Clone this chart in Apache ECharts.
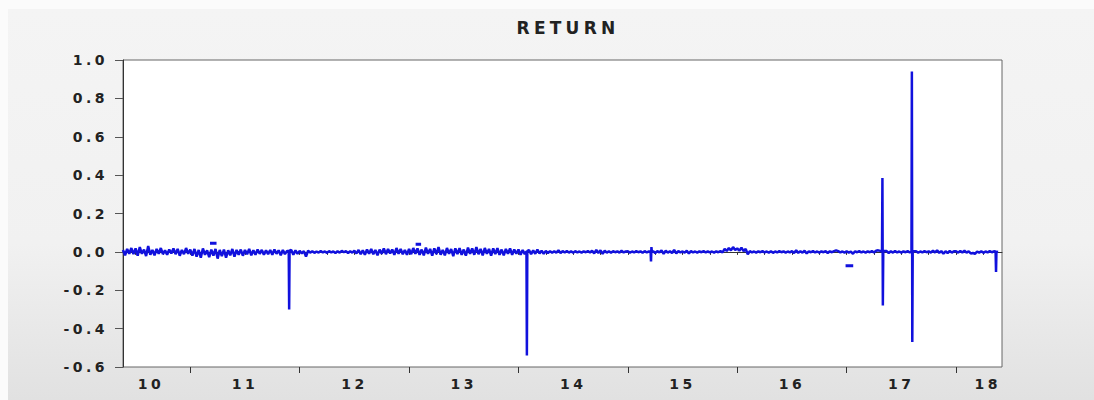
<!DOCTYPE html>
<html>
<head>
<meta charset="utf-8">
<title>RETURN</title>
<script src="https://cdn.jsdelivr.net/npm/echarts@6/dist/echarts.min.js"></script>
<style>
    html, body {
        margin: 0;
        padding: 0;
        background: #fbfbfb;
    }
    #bg {
        position: absolute;
        left: 8px;
        top: 9px;
        right: 0;
        bottom: 0;
        background: linear-gradient(to bottom, #f4f4f4 0%, #f1f1f1 60%, #e1e1e1 100%);
    }
    #chart {
        position: absolute;
        left: 0;
        top: 0;
        width: 1094px;
        height: 400px;
    }
    /* the source picture is stretched sideways, spread the letters a bit */
    #chart text {
        letter-spacing: 0.25em;
    }
</style>
</head>
<body>
<div id="bg"></div>
<div id="chart"></div>
<script>
    // weekly returns, first value of 2010 sits about mid May
    var r2010 = [
        0.010, -0.018, 0.015, -0.010, 0.020, -0.012, 0.018, -0.020,
        0.025, -0.010, 0.012, -0.022, 0.030, -0.015, 0.010, -0.018,
        0.015, -0.010, 0.020, -0.012, 0.008, -0.015, 0.012, -0.008,
        0.018, -0.012, 0.015, -0.020, 0.010, -0.012, 0.020, -0.010
    ]
    var r2011 = [
        0.012, -0.020, 0.015, -0.025, 0.010, -0.030, 0.018, -0.015, 0.008, -0.028, 0.012, -0.020, 0.015,
        -0.035, 0.010, -0.022, 0.012, -0.030, 0.008, -0.018, 0.015, -0.025, 0.010, -0.015, 0.012, -0.020,
        0.010, -0.012, 0.015, -0.018, 0.008, -0.015, 0.012, -0.010, 0.010, -0.015, 0.008, -0.012, 0.010,
        -0.015, 0.012, -0.010, 0.008, -0.018, 0.010, -0.012, 0.005, -0.300, 0.010, -0.015, 0.008, -0.010
    ]
    var r2012 = [
        0.005, -0.008, 0.004, -0.025, 0.006, -0.004, 0.003, -0.005, 0.002, -0.004, 0.005, -0.003, 0.002,
        -0.005, 0.004, -0.003, 0.002, -0.006, 0.003, -0.004, 0.005, -0.002, 0.004, -0.006, 0.003, -0.004,
        0.006, -0.008, 0.010, -0.012, 0.008, -0.015, 0.012, -0.010, 0.015, -0.012, 0.010, -0.018, 0.012,
        -0.010, 0.018, -0.012, 0.015, -0.008, 0.012, -0.015, 0.020, -0.010, 0.015, -0.012, 0.010, -0.015
    ]
    var r2013 = [
        0.015, -0.012, 0.020, -0.010, 0.018, -0.015, 0.012, -0.018, 0.022, -0.010, 0.015, -0.020, 0.018,
        -0.012, 0.025, -0.015, 0.010, -0.018, 0.020, -0.010, 0.015, -0.022, 0.018, -0.012, 0.020, -0.015,
        0.012, -0.020, 0.022, -0.010, 0.018, -0.015, 0.025, -0.012, 0.015, -0.018, 0.020, -0.010, 0.015,
        -0.020, 0.018, -0.012, 0.020, -0.015, 0.012, -0.018, 0.015, -0.010, 0.018, -0.015, 0.012, -0.010
    ]
    var r2014 = [
        0.012, -0.015, 0.010, -0.012, -0.540, 0.010, -0.012, 0.008, -0.010, 0.012, -0.008, 0.006, -0.010,
        0.005, -0.006, 0.004, -0.005, 0.003, -0.004, 0.008, -0.006, 0.004, -0.003, 0.005, -0.004, 0.003,
        -0.005, 0.004, -0.003, 0.002, -0.004, 0.003, -0.002, 0.004, -0.003, 0.006, -0.008, 0.010, -0.006,
        0.008, -0.010, 0.006, -0.004, 0.003, -0.005, 0.004, -0.002, 0.003, -0.004, 0.006, -0.003, 0.002
    ]
    var r2015 = [
        0.003, -0.004, 0.002, -0.003, 0.004, -0.002, 0.003, -0.005, 0.004, -0.003, 0.002, -0.050, 0.004,
        -0.006, 0.004, -0.003, 0.008, -0.010, 0.006, -0.004, 0.003, -0.006, 0.010, -0.008, 0.004, -0.003,
        0.002, -0.004, 0.006, -0.008, 0.004, -0.003, 0.002, -0.004, 0.003, -0.002, 0.004, -0.003, 0.002,
        -0.003, 0.002, -0.004, 0.003, -0.002, 0.004, -0.003, 0.015, 0.005, 0.020, 0.008, 0.025, 0.010
    ]
    var r2016 = [
        0.018, 0.006, 0.022, 0.004, 0.015, -0.012, 0.004, -0.003, 0.002, -0.004, 0.003, -0.002, 0.004,
        -0.003, 0.002, -0.004, 0.003, -0.005, 0.002, -0.003, 0.004, -0.002, 0.003, -0.004, 0.002, -0.003,
        0.004, -0.006, 0.008, -0.005, 0.003, -0.004, 0.006, -0.008, 0.003, -0.002, 0.004, -0.003, 0.002,
        -0.004, 0.003, -0.002, 0.004, -0.006, 0.003, -0.002, 0.004, 0.008, 0.004, -0.003, 0.002, -0.004
    ]
    var r2017 = [
        0.003, -0.004, 0.002, -0.010, 0.003, -0.002, 0.004, -0.003, 0.002, -0.004, 0.003, -0.002, 0.004,
        -0.003, 0.006, 0.008, 0.005, 0.385, 0.004, 0.004, -0.006, 0.003, -0.004, 0.005, -0.003, 0.002,
        -0.004, 0.003, -0.002, 0.004, -0.003, 0.940, 0.003, 0.003, -0.004, 0.002, -0.003, 0.004, -0.002,
        0.003, -0.004, 0.006, -0.003, 0.008, -0.005, 0.004, -0.010, 0.003, -0.006, 0.005, -0.004, 0.003
    ]
    var r2018 = [
        0.003, -0.004, 0.005, -0.003, 0.006, -0.004, 0.003, -0.008, -0.006, -0.010, 0.002,
        -0.004, 0.003, -0.005, 0.002, -0.003, 0.004, -0.002, 0.003, -0.105, 0.000
    ]

    // single trading days around the big moves (the week above keeps the peak)
    var dayDates = [
        2011.9000, 2011.9077,
        2014.0731, 2014.0808,
        2015.2077, 2015.2154, 2015.2192,
        2017.3231, 2017.3308, 2017.3346,
        2017.5923, 2017.6000, 2017.6038,
        2018.3615, 2018.3692
    ]
    var dayValues = [
        0.004, 0.006,
        0.003, 0.004,
        0.002, 0.025, 0.002,
        0.003, -0.280, 0.004,
        0.002, -0.470, 0.003,
        0.002, 0.001
    ]

    // loose observations that stand apart from the line (start, end, value)
    var looseStart = [2011.18, 2013.06, 2016.99]
    var looseEnd = [2011.24, 2013.11, 2017.06]
    var looseValue = [0.045, 0.040, -0.072]

    // x axis: years, label text is the last two digits
    var firstYear = 2010
    var lastYear = 2018
    var xMin = 2010.385
    var xMax = 2018.42
    // where EViews put each year label
    var yearLabelAt = [2010.64, 2011.5, 2012.5, 2013.5, 2014.5, 2015.5, 2016.5, 2017.5, 2018.29]

    var yMin = -0.6
    var yMax = 1.0
    var yStep = 0.2

    var weeksPerYear = 52
    var textFont = 'DejaVu Sans'
    var lineBlue = '#1111dd'

    // 拼接每年的周数据
    var points = []
    r2010.forEach(function (v, i) {
        points.push([firstYear + 1 - (r2010.length - i) / weeksPerYear, v])
    })
    var laterYears = [r2011, r2012, r2013, r2014, r2015, r2016, r2017, r2018]
    laterYears.forEach(function (arr, k) {
        var year = firstYear + 1 + k
        arr.forEach(function (v, i) {
            points.push([year + i / weeksPerYear, v])
        })
    })
    dayDates.forEach(function (d, i) {
        points.push([d, dayValues[i]])
    })
    points.sort(function (a, b) {
        return a[0] - b[0]
    })

    var loosePoints = []
    looseValue.forEach(function (v, i) {
        if (i > 0) loosePoints.push(['-', '-'])
        loosePoints.push([looseStart[i], v])
        loosePoints.push([looseEnd[i], v])
    })

    // 季度刻度和年刻度
    var quarterTicks = []
    var yearTicks = []
    for (var y = firstYear; y <= lastYear; y++) {
        for (var q = 0; q < 4; q++) {
            var t = y + q / 4
            if (t > xMin && t < xMax) quarterTicks.push(t)
        }
        if (y > xMin && y < xMax) yearTicks.push(y)
    }

    var chart = echarts.init(document.getElementById('chart'), null, { renderer: 'svg' })
    chart.setOption({
        animation: false,
        backgroundColor: 'transparent',
        title: {
            text: 'RETURN',
            left: 563,
            top: 14,
            textAlign: 'center',
            textStyle: {
                fontFamily: textFont,
                fontSize: 17,
                fontWeight: 'bold',
                color: '#222'
            }
        },
        grid: {
            left: 123,
            right: 92,
            top: 60,
            bottom: 33,
            show: true,
            backgroundColor: '#fff',
            borderColor: '#666',
            borderWidth: 1
        },
        xAxis: [
            {
                type: 'value',
                min: xMin,
                max: xMax,
                position: 'bottom',
                axisLine: { show: true, lineStyle: { color: '#333', width: 1 } },
                axisTick: {
                    show: true,
                    length: 3,
                    customValues: quarterTicks,
                    lineStyle: { color: '#333' }
                },
                axisLabel: {
                    customValues: yearLabelAt,
                    margin: 10,
                    fontFamily: textFont,
                    fontSize: 14,
                    fontWeight: 'bold',
                    color: '#222',
                    formatter: function (v) {
                        return String(Math.floor(v)).slice(2)
                    }
                },
                splitLine: { show: false }
            },
            {
                type: 'value',
                min: xMin,
                max: xMax,
                position: 'bottom',
                axisLine: { show: false },
                axisTick: {
                    show: true,
                    length: 6,
                    customValues: yearTicks,
                    lineStyle: { color: '#333' }
                },
                axisLabel: { show: false },
                splitLine: { show: false }
            }
        ],
        yAxis: {
            type: 'value',
            min: yMin,
            max: yMax,
            interval: yStep,
            axisLine: { show: true, lineStyle: { color: '#333', width: 1 } },
            axisTick: { show: true, length: 8, lineStyle: { color: '#555' } },
            axisLabel: {
                margin: 15,
                fontFamily: textFont,
                fontSize: 14,
                fontWeight: 'bold',
                color: '#222',
                formatter: function (v) {
                    return v.toFixed(1)
                }
            },
            splitLine: { show: false }
        },
        series: [
            {
                // 零线, 放在蓝线下面
                name: 'zero',
                type: 'line',
                data: [],
                z: 1,
                markLine: {
                    z: 1,
                    silent: true,
                    symbol: 'none',
                    label: { show: false },
                    lineStyle: { color: '#333', width: 1, type: 'solid' },
                    data: [{ yAxis: 0 }]
                }
            },
            {
                name: 'RETURN',
                type: 'line',
                data: points,
                z: 3,
                showSymbol: false,
                lineStyle: { color: lineBlue, width: 2.5 }
            },
            {
                name: 'loose',
                type: 'line',
                data: loosePoints,
                z: 3,
                showSymbol: false,
                connectNulls: false,
                lineStyle: { color: lineBlue, width: 3 }
            }
        ]
    })
</script>
</body>
</html>
